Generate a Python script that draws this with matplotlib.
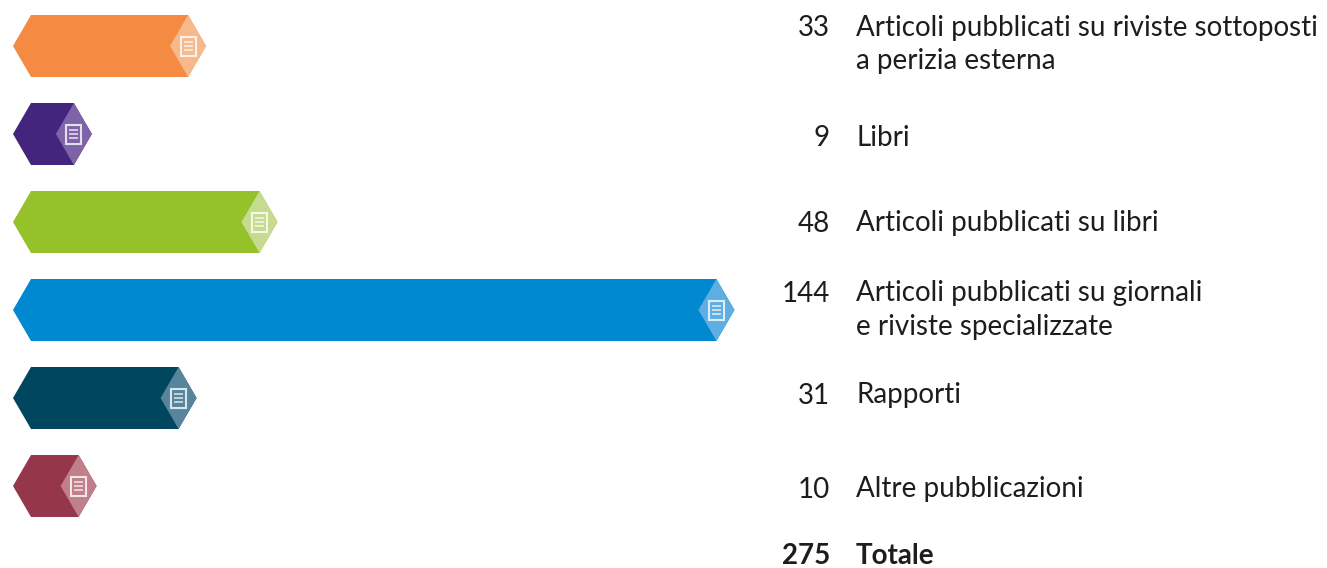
import matplotlib
matplotlib.use('Agg')
import matplotlib.pyplot as plt
from matplotlib.patches import Polygon, Rectangle

# Values and labels
values = [33, 9, 48, 144, 31, 10]
labels = ['Articoli pubblicati su riviste sottoposti\na perizia esterna',
          'Libri',
          'Articoli pubblicati su libri',
          'Articoli pubblicati su giornali\ne riviste specializzate',
          'Rapporti',
          'Altre pubblicazioni']
total = 275
total_label = 'Totale'
colors = ['#F58A42', '#44257D', '#95C12B', '#0088D0', '#00465F', '#95364A']
light_colors = ['#F6B98C', '#7E64A6', '#C6DB90', '#5FAEE2', '#56859C', '#C07F8A']

WIDTH, HEIGHT = 1327, 568
PX_PER_UNIT = 4.76  # horizontal scale of the bars
BAR_LEFT = 31  # pixel position of value 0
TIP = 18 / PX_PER_UNIT  # length of the pointed ends, in value units
HALF = 31  # half bar height

row_y = [46, 134, 222, 310, 398, 486]
text_y = [41.5, 135, 221, 307, 393, 487]
total_y = 553
TEXT_COLOR = '#1D1D1B'

plt.rcParams['font.family'] = ['Lato', 'DejaVu Sans']

fig = plt.figure(figsize=(WIDTH / 100, HEIGHT / 100), dpi=100)
ax = fig.add_axes([0, 0, 1, 1])
ax.set_xlim(-BAR_LEFT / PX_PER_UNIT, (WIDTH - BAR_LEFT) / PX_PER_UNIT)
ax.set_ylim(HEIGHT, 0)
ax.axis('off')


def draw_icon(v, y):
    """Small document icon sitting on the end of a bar."""
    w = 15 / PX_PER_UNIT
    ax.add_patch(Rectangle((v - w / 2, y - 9.5), w, 19, fill=False,
                           edgecolor='white', linewidth=1.5, alpha=0.8))
    for dy in (-4, 0, 4):
        ax.plot([v - w / 2 + 3 / PX_PER_UNIT, v + w / 2 - 3 / PX_PER_UNIT],
                [y + dy, y + dy], color='white', linewidth=1.3, alpha=0.7,
                solid_capstyle='butt')


for v, y, c, lc in zip(values, row_y, colors, light_colors):
    ax.add_patch(Polygon([(-TIP, y), (0, y - HALF), (v, y - HALF), (v + TIP, y),
                          (v, y + HALF), (0, y + HALF)],
                         facecolor=c, edgecolor='none'))
    ax.add_patch(Polygon([(v, y - HALF), (v + TIP, y), (v, y + HALF), (v - TIP, y)],
                         facecolor=lc, edgecolor='none'))
    draw_icon(v, y)

x_num = (830 - BAR_LEFT) / PX_PER_UNIT
x_label = (856 - BAR_LEFT) / PX_PER_UNIT
FS = 20

for v, label, y in zip(values, labels, text_y):
    lines = label.split('\n')
    if len(lines) == 1:
        ax.text(x_num, y, str(v), ha='right', va='center_baseline', fontsize=FS, color=TEXT_COLOR)
        ax.text(x_label, y, label, ha='left', va='center_baseline', fontsize=FS, color=TEXT_COLOR)
    else:
        ax.text(x_num, y - 16, str(v), ha='right', va='center_baseline', fontsize=FS, color=TEXT_COLOR)
        for i, line in enumerate(lines):
            ax.text(x_label, y - 16 + i * 33, line, ha='left', va='center_baseline',
                    fontsize=FS, color=TEXT_COLOR)

ax.text(x_num, total_y, str(total), ha='right', va='center_baseline', fontsize=FS,
        fontweight='bold', color=TEXT_COLOR)
ax.text(x_label, total_y, total_label, ha='left', va='center_baseline', fontsize=FS,
        fontweight='bold', color=TEXT_COLOR)

fig.savefig('out.png', dpi=100)
